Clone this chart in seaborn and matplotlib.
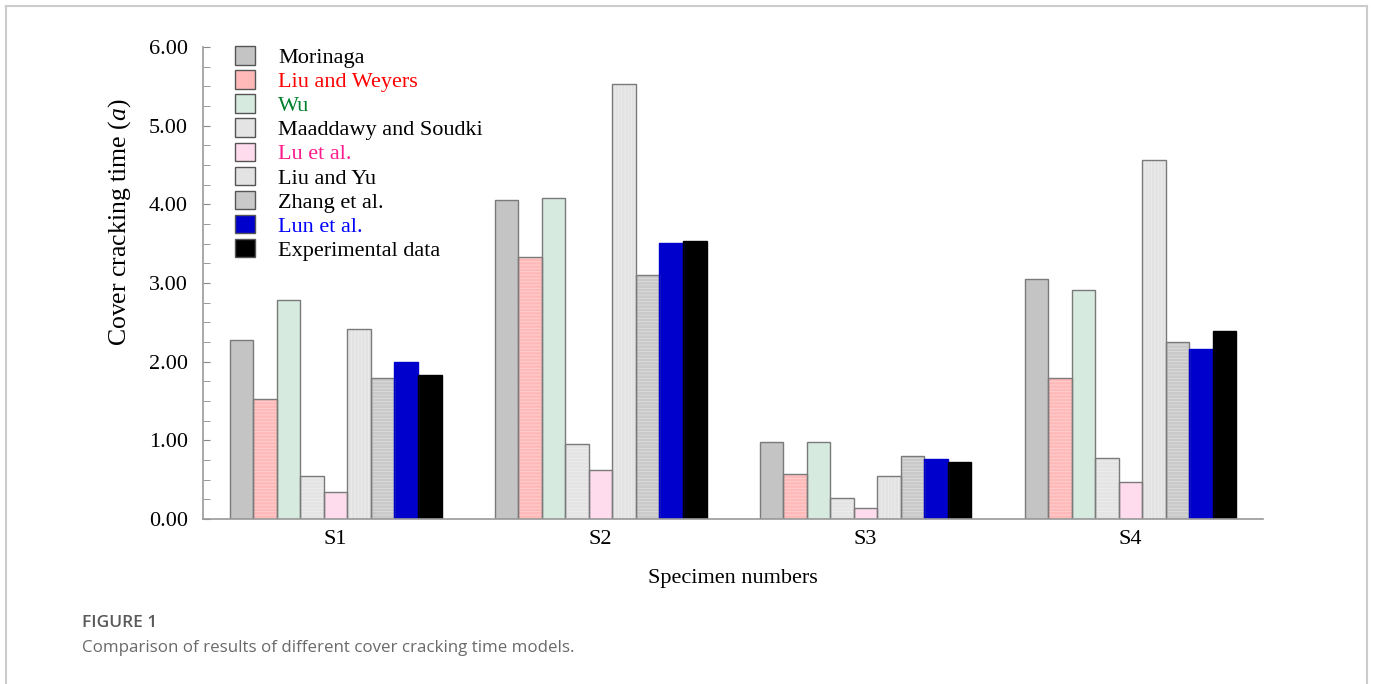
import seaborn as sns
import matplotlib.pyplot as plt
import pandas as pd
from matplotlib.patches import Rectangle
from matplotlib.lines import Line2D
from matplotlib.ticker import MultipleLocator, FormatStrFormatter

# Data
specimens = ['S1', 'S2', 'S3', 'S4']
models = ['Morinaga', 'Liu and Weyers', 'Wu', 'Maaddawy and Soudki', 'Lu et al.',
          'Liu and Yu', 'Zhang et al.', 'Lun et al.', 'Experimental data']
morinaga = [2.28, 4.05, 0.98, 3.05]
liu_weyers = [1.53, 3.33, 0.57, 1.79]
wu = [2.78, 4.08, 0.98, 2.91]
maaddawy = [0.55, 0.95, 0.27, 0.78]
lu = [0.34, 0.62, 0.14, 0.47]
liu_yu = [2.42, 5.53, 0.55, 4.56]
zhang = [1.79, 3.10, 0.80, 2.25]
lun = [2.00, 3.51, 0.76, 2.16]
experimental = [1.83, 3.53, 0.72, 2.39]

fill_colors = ['#c4c4c4', '#ffb9b9', '#d6eadf', '#e4e4e4', '#ffdced',
               '#e3e3e3', '#c9c9c9', '#0000cc', '#000000']
text_colors = ['black', '#ff0000', '#00802b', 'black', '#ff1a8c',
               'black', 'black', '#0000ff', 'black']
hatches = ['', '-----', '', '-----', '', '|||||', '-----', '', '']

series = [morinaga, liu_weyers, wu, maaddawy, lu, liu_yu, zhang, lun, experimental]
rows = []
for m, vals in zip(models, series):
    for s, v in zip(specimens, vals):
        rows.append({'specimen': s, 'model': m, 'time': v})
df = pd.DataFrame(rows)

plt.rcParams['font.family'] = ['Liberation Serif', 'DejaVu Serif']
plt.rcParams['mathtext.fontset'] = 'custom'
plt.rcParams['mathtext.rm'] = 'Liberation Serif'
plt.rcParams['mathtext.it'] = 'Liberation Serif:italic'
plt.rcParams['hatch.linewidth'] = 0.6

fig = plt.figure(figsize=(13.73, 6.84), dpi=100)
ax = fig.add_axes([203 / 1373, 1 - 519 / 684, 1060 / 1373, 472 / 684])

sns.barplot(data=df, x='specimen', y='time', hue='model', order=specimens,
            hue_order=models, palette=dict(zip(models, fill_colors)),
            width=0.8, gap=0, saturation=1, ax=ax, legend=False)

# texture + outlines on each bar
n = len(specimens)
for i, p in enumerate(ax.patches[:n * len(models)]):
    k = i // n
    p.set_linewidth(0)
    if hatches[k]:
        p.set_hatch(hatches[k])
        p.set_edgecolor((1, 1, 1, 0.35))
    ax.add_patch(Rectangle(p.get_xy(), p.get_width(), p.get_height(), fill=False,
                           edgecolor='#7a7a7a' if k < 7 else fill_colors[k], linewidth=1.0))

ax.set_xlim(-0.5, 3.5)
ax.set_ylim(0, 6)
ax.yaxis.set_major_locator(MultipleLocator(1))
ax.yaxis.set_minor_locator(MultipleLocator(0.25))
ax.yaxis.set_major_formatter(FormatStrFormatter('%.2f'))
ax.tick_params(axis='y', which='both', direction='in', length=5, color='#888888',
               labelsize=16, pad=11)
ax.tick_params(axis='x', length=0, labelsize=16, pad=8)
for side in ['top', 'right']:
    ax.spines[side].set_visible(False)
for side in ['left', 'bottom']:
    ax.spines[side].set_color('#9a9a9a')
    ax.spines[side].set_linewidth(1.2)

ax.set_xlabel('Specimen numbers', fontsize=16, labelpad=14)
ax.set_ylabel('Cover cracking time ($a$)', fontsize=18.5)
ax.yaxis.set_label_coords(-0.066, 0.629)

# legend
handles = []
for k in range(len(models)):
    handles.append(Rectangle((0, 0), 1, 1, facecolor=fill_colors[k], edgecolor='#555555',
                             linewidth=1.0))
leg = ax.legend(handles, models, loc='upper left', bbox_to_anchor=(0.030, 1.002),
                frameon=False, prop={'family': 'Liberation Serif', 'size': 16},
                borderaxespad=0, borderpad=0, handlelength=0.9, handleheight=0.9,
                handletextpad=1.05, labelspacing=0.1)
for t, c in zip(leg.get_texts(), text_colors):
    t.set_color(c)

# caption
fig.text(82 / 1373, 1 - 623 / 684, 'FIGURE 1', family='Open Sans', fontsize=12.5,
         weight='semibold', color='#5a5a5a', va='center')
fig.text(82 / 1373, 1 - 648 / 684, 'Comparison of results of different cover cracking time models.',
         family='Open Sans', fontsize=12.2, color='#6a6a6a', va='center')

# card border
fig.add_artist(Line2D([6 / 1373, 6 / 1373], [0, 1 - 6 / 684], color='#cccccc', lw=1.5))
fig.add_artist(Line2D([6 / 1373, 1367 / 1373], [1 - 6 / 684, 1 - 6 / 684], color='#cccccc', lw=1.5))
fig.add_artist(Line2D([1367 / 1373, 1367 / 1373], [0, 1 - 6 / 684], color='#cccccc', lw=1.5))

fig.savefig('out.png', dpi=100)
